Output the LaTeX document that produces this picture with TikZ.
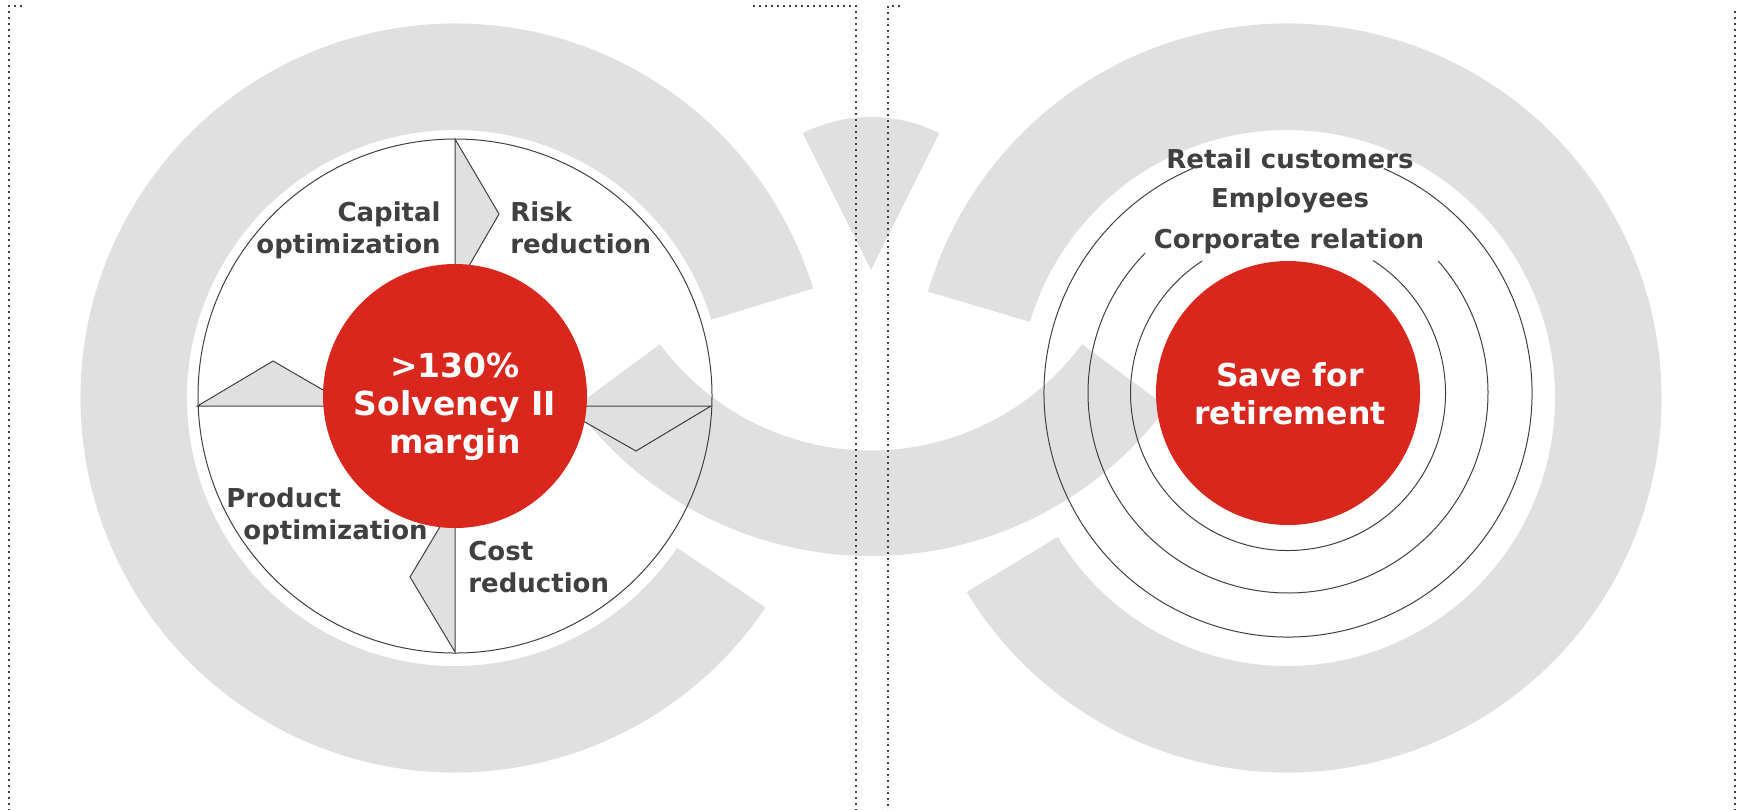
\documentclass[tikz,border=0pt]{standalone}
\usepackage{fontspec}
\setmainfont{DejaVu Sans}
\usepackage{tikz}

\definecolor{ringgray}{HTML}{E0E0E0}
\definecolor{hubred}{HTML}{D9271D}
\definecolor{inkgray}{HTML}{404040}

\tikzset{
  rim/.style={draw=black!75, line width=0.5pt},
  wedge/.style={fill=ringgray, draw=black!75, line width=0.5pt},
  lbl/.style={text=inkgray, font=\fontsize{13}{15.8}\selectfont\bfseries, inner sep=0pt},
  hub/.style={text=white, font=\fontsize{16.5}{18.8}\selectfont\bfseries, inner sep=0pt, align=center},
  frame/.style={draw=inkgray, line width=1pt, dash pattern=on 1pt off 2pt}
}

\begin{document}
\begin{tikzpicture}[x=0.5pt, y=-0.5pt]
	\useasboundingbox (0,0) rectangle (1743,810);
	% grey background shapes
	\fill[ringgray] (455,398) ++(34:374.5) arc[start angle=34, end angle=343, radius=374.5] -- ++(163:106.5) arc[start angle=343, end angle=34, radius=268] -- cycle;
	\fill[ringgray] (1287,398) ++(196.5:374.5) arc[start angle=196.5, end angle=508.8, radius=374.5] -- ++(328.8:106.5) arc[start angle=508.8, end angle=196.5, radius=268] -- cycle;
	\fill[ringgray] (871,188) ++(36.5:368) arc[start angle=36.5, end angle=143.5, radius=368] -- ++(-36.5:105.5) arc[start angle=143.5, end angle=36.5, radius=262.5] -- cycle;
	\fill[ringgray] (871,270) -- ++(-116.5:153) arc[start angle=-116.5, end angle=-63.5, radius=153] -- cycle;
	% dotted frames
	\draw[frame] (22,6) -- (8.5,6) -- (8.5,810);
	\draw[frame] (753,6) -- (856,6) -- (856,810);
	\draw[frame] (900,6) -- (888,6) -- (888,810);
	\draw[frame] (1735,11) -- (1735,810);
	% left wheel
	\draw[rim] (455,396) circle[radius=257];
	\filldraw[wedge] (455,139) -- (499,214) -- (466,271) -- (455,271) -- cycle;
	\filldraw[wedge] (711,406) -- (636,451) -- (576,417) -- (576,406) -- cycle;
	\filldraw[wedge] (455,652) -- (410,577) -- (444,520) -- (455,520) -- cycle;
	\filldraw[wedge] (197.5,406) -- (273,361) -- (330,394) -- (330,406) -- cycle;
	\fill[hubred] (455,396) circle[radius=132];
	\node[lbl, align=right, anchor=base east] (capital) at (441,253) {Capital\\optimization};
	\node[lbl, align=left, anchor=base west] (risk) at (510,253) {Risk\\reduction};
	\node[lbl, align=left, anchor=base west] (product) at (226,539) {Product\\\hspace*{8.5pt}optimization};
	\node[lbl, align=left, anchor=base west] (cost) at (468,592) {Cost\\reduction};
	\node[hub, anchor=base] (solvency) at (455,453) {>130\%\\Solvency II\\margin};
	% right target
	\draw[rim] (1288,393) ++(-57.3:157.5) arc[start angle=-57.3, end angle=237, radius=157.5];
	\draw[rim] (1288,393) ++(-41.3:200) arc[start angle=-41.3, end angle=224.4, radius=200];
	\draw[rim] (1288,393) ++(-66.9:244) arc[start angle=-66.9, end angle=247.1, radius=244];
	\fill[hubred] (1288,393) circle[radius=132];
	\node[hub, font=\fontsize{15.75}{19.3}\selectfont\bfseries, anchor=base] (save) at (1290,424.6) {Save for\\retirement};
	\node[lbl, anchor=base] (retail) at (1290,168) {Retail customers};
	\node[lbl, anchor=base] (employees) at (1290,207) {Employees};
	\node[lbl, anchor=base] (corporate) at (1289,248) {Corporate relation};
\end{tikzpicture}
\end{document}
